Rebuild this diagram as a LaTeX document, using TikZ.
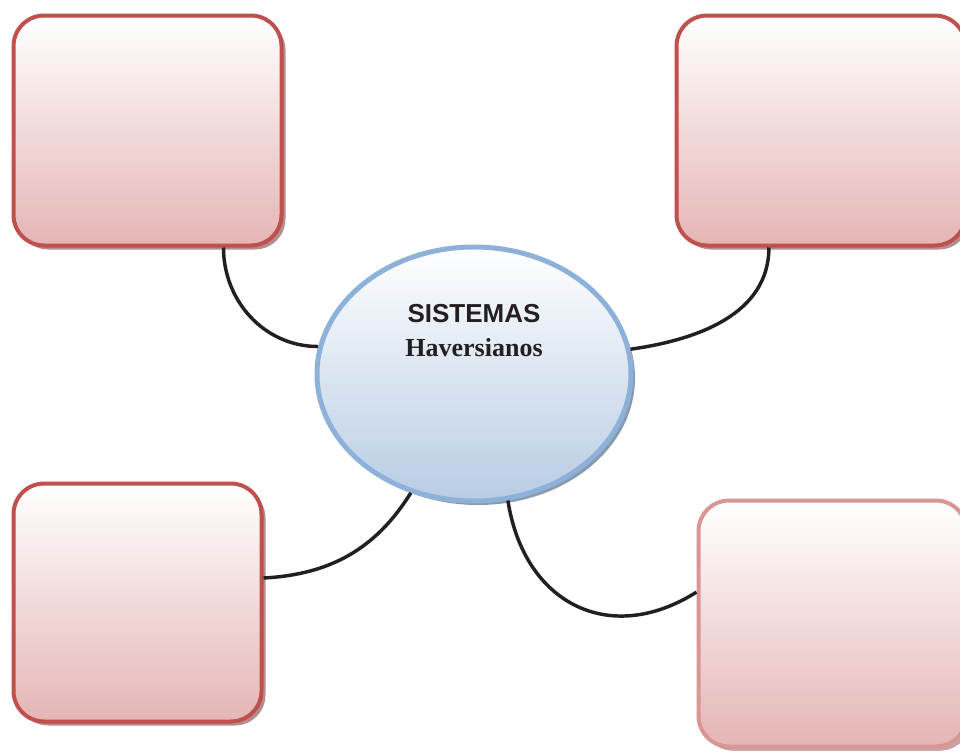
\documentclass[tikz,border=0pt]{standalone}
\usepackage{fontspec}
\setmainfont{Liberation Serif}
\newfontfamily\headsans{Liberation Sans}
\usetikzlibrary{shapes.geometric}

\definecolor{boxedge}{HTML}{C0504D}
\definecolor{boxedgesoft}{HTML}{D99694}
\definecolor{boxfillbot}{HTML}{E5B5B5}
\definecolor{boxshade}{HTML}{B38E8E}
\definecolor{boxshadesoft}{HTML}{C9A2A2}
\definecolor{hubedge}{HTML}{8EB1DA}
\definecolor{hubfillbot}{HTML}{B8CCE4}
\definecolor{hubshade}{HTML}{8A9AAE}
\definecolor{linkcol}{HTML}{231F20}

\tikzset{
  panel/.style={
    draw=boxedge, line width=3pt, rectangle, rounded corners=23pt,
    top color=white, bottom color=boxfillbot, inner sep=0pt,
    preaction={fill=boxshade, transform canvas={shift={(3pt,-3pt)}}}
  },
  softpanel/.style={panel, draw=boxedgesoft,
    preaction={fill=boxshadesoft, transform canvas={shift={(3pt,-3pt)}}}},
  hub/.style={
    draw=hubedge, line width=3.75pt, ellipse, inner sep=0pt,
    top color=white, bottom color=hubfillbot,
    preaction={fill=hubshade, transform canvas={shift={(3pt,-3pt)}}}
  },
  link/.style={draw=linkcol, line width=2.6pt},
  headline/.style={anchor=base, inner sep=0pt, text=linkcol}
}

\begin{document}
\begin{tikzpicture}[x=0.75pt, y=-0.75pt]
  \clip (0,0) rectangle (960,753);
  \fill[white] (0,0) rectangle (960,753);

  % four empty panels around the central ellipse
  \node[panel, minimum width=201pt, minimum height=172.5pt] (tl) at (147.5,130.5) {};
  \node[panel, minimum width=216.75pt, minimum height=172.5pt] (tr) at (821,130.5) {};
  \node[panel, minimum width=186pt, minimum height=178.5pt] (bl) at (137.5,602.5) {};
  \node[softpanel, minimum width=201pt, minimum height=184.5pt] (br) at (832.5,623.5) {};

  % central ellipse
  \node[hub, minimum width=235.5pt, minimum height=190.5pt] (core) at (474,374) {};

  % connectors
  \draw[link] (tl.-57.4) to[out=-90, in=180] (core.170.7);
  \draw[link] (tr.-114.3) to[out=-90, in=8] (core.9.7);
  \draw[link] (bl.11.5) to[out=3, in=238] (core.242.1);
  \draw[link] (core.285.9) .. controls +(16,103) and +(-87,55) .. (br.167.9);

  % title
  \node[headline, font={\headsans\bfseries\fontsize{19.5}{23}\selectfont}] (t1) at (474,322) {SISTEMAS};
  \node[headline, font={\bfseries\fontsize{19.5}{23}\selectfont}] (t2) at (474,356) {Haversianos};
\end{tikzpicture}
\end{document}
